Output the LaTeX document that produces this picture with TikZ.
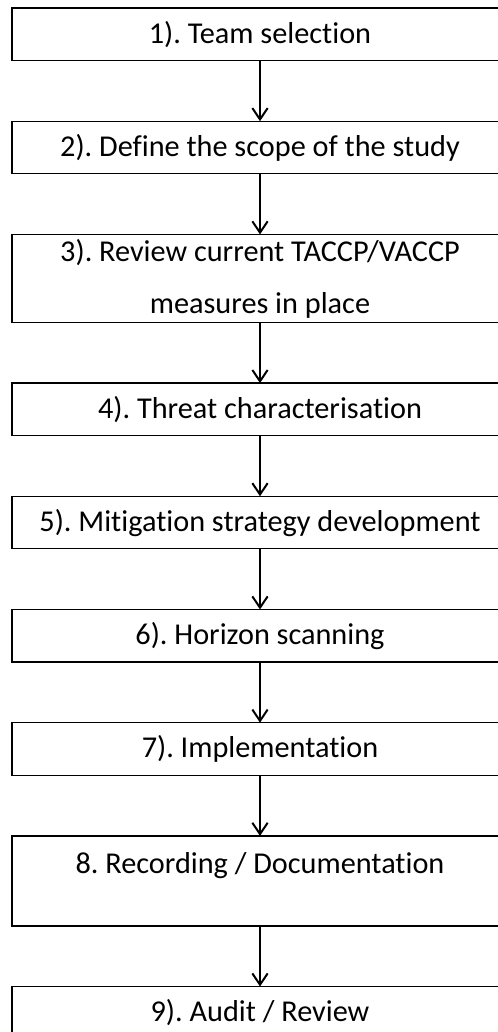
\documentclass[tikz,border=0pt]{standalone}
\usepackage{fontspec}
\setmainfont{Carlito}[Ligatures=NoCommon]
\usetikzlibrary{arrows.meta, positioning}
\frenchspacing

\begin{document}
\begin{tikzpicture}[
  font=\fontsize{22.7pt}{39pt}\selectfont,
  node distance=45.5pt,
  stage/.style ={draw=black, line width=1pt, align=center, outer sep=0pt,
                 minimum width=372pt, minimum height=39.4pt, inner sep=2pt},
  tall/.style  ={stage, minimum height=66pt},
  flow/.style  ={-{Straight Barb[length=8.5pt, width=11.5pt, line width=1.5pt]},
                 line width=1.6pt, draw=black},
]
\useasboundingbox (0,0) rectangle (373.5pt,-774pt);

\node[stage, anchor=north] (team) at (195pt,-6pt) {1). Team selection};
\node[stage, below=of team]   (scope)  {2). Define the scope of the study};
\node[tall,  below=of scope]  (review) {3). Review current TACCP/VACCP\\
                                        measures in place};
\node[stage, below=of review] (threat) {4). Threat characterisation};
\node[stage, below=of threat] (mitig)  {5). Mitigation strategy development};
\node[stage, below=of mitig]  (horiz)  {6). Horizon scanning};
\node[stage, below=of horiz]  (impl)   {7). Implementation};
\node[tall,  below=of impl, minimum height=67.5pt]
                              (record) {8. Recording / Documentation\\[-12pt] \mbox{}};
\node[stage, below=of record] (audit)  {9). Audit / Review};

\draw[flow] (team)   -- (scope);
\draw[flow] (scope)  -- (review);
\draw[flow] (review) -- (threat);
\draw[flow] (threat) -- (mitig);
\draw[flow] (mitig)  -- (horiz);
\draw[flow] (horiz)  -- (impl);
\draw[flow] (impl)   -- (record);
\draw[flow] (record) -- (audit);

\end{tikzpicture}
\end{document}
